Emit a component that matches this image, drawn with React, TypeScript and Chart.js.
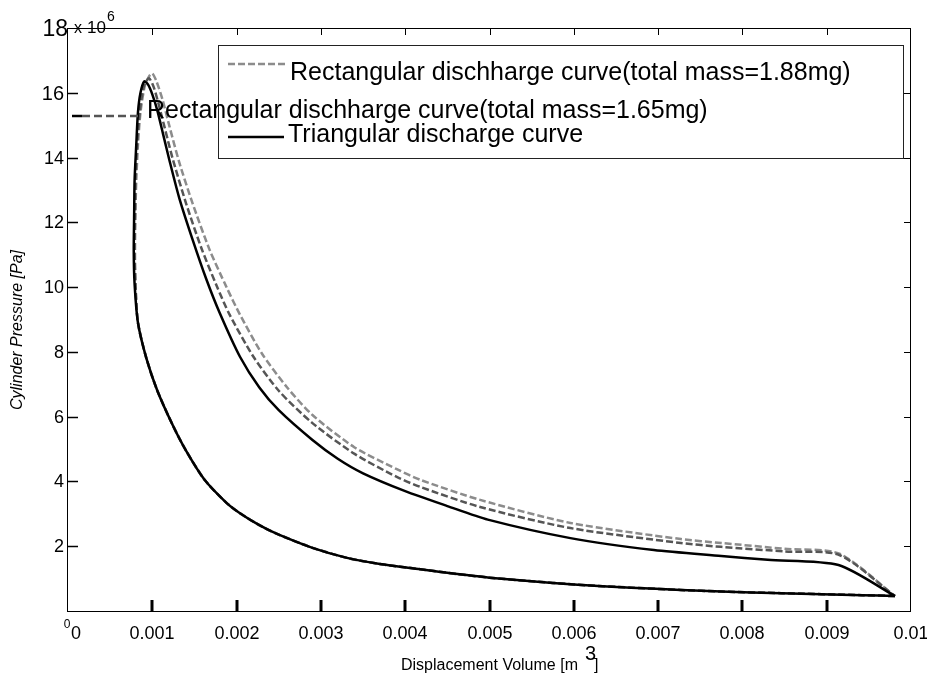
import React, { useEffect, useRef } from "react";
import { Chart, registerables } from "chart.js";

Chart.register(...registerables);

// Volume in m^3, pressure in units of 10^6 Pa
// Shared compression stroke (from bottom dead centre back to the left)
const compressionVolume = [
  0.00981, 0.00942, 0.00846, 0.00775, 0.00727, 0.00668, 0.006, 0.0055, 0.005, 0.00462,
  0.00418, 0.0037, 0.00331, 0.0029, 0.00248, 0.00227, 0.00204, 0.00188, 0.00162, 0.0014,
  0.00124, 0.00106, 0.00093, 0.00083,
];
const compressionPressure = [
  0.46, 0.49, 0.55, 0.6, 0.65, 0.72, 0.82, 0.92, 1.03, 1.14,
  1.29, 1.45, 1.64, 1.95, 2.38, 2.65, 3.02, 3.34, 4.05, 4.95,
  5.75, 6.8, 7.8, 8.9,
];

// Triangular discharge curve: combustion rise and expansion
const triVolume = [
  0.00079, 0.00078, 0.000785, 0.00079, 0.00081, 0.00083, 0.00086, 0.000905, 0.00095, 0.001,
  0.00106, 0.00113, 0.0012, 0.00132, 0.00148, 0.00164, 0.0018, 0.00204, 0.00227, 0.0025,
  0.0029, 0.0032, 0.0035, 0.004, 0.0045, 0.00498, 0.00596, 0.00695, 0.00775, 0.0083,
  0.00914, 0.00981,
];
const triPressure = [
  10.1, 11.1, 12.3, 13.3, 14.4, 15.4, 16.0, 16.35, 16.25, 15.95,
  15.45, 14.7, 13.95, 12.75, 11.45, 10.25, 9.2, 7.85, 6.9, 6.2,
  5.28, 4.7, 4.25, 3.7, 3.24, 2.82, 2.25, 1.88, 1.7, 1.58,
  1.42, 0.46,
];

// Rectangular discharge curve, total mass = 1.88 mg
const rect188Volume = [
  0.0008, 0.000795, 0.0008, 0.00081, 0.00083, 0.00086, 0.00091, 0.00096, 0.001, 0.00105,
  0.00112, 0.0012, 0.00132, 0.001476, 0.00168, 0.00188, 0.00204, 0.0023, 0.0026, 0.0029,
  0.0034, 0.0039, 0.00418, 0.00489, 0.00596, 0.00727, 0.00775, 0.0085, 0.00915, 0.00981,
];
const rect188Pressure = [
  10.1, 11.1, 12.3, 13.3, 14.4, 15.4, 16.2, 16.5, 16.6, 16.35,
  15.8, 15.0, 13.85, 12.6, 11.15, 10.0, 9.15, 7.95, 6.9, 6.05,
  5.05, 4.38, 4.05, 3.43, 2.72, 2.22, 2.1, 1.92, 1.77, 0.46,
];

// Rectangular discharge curve, total mass = 1.65 mg
const rect165Volume = [
  0.0008, 0.00079, 0.000795, 0.0008, 0.00082, 0.00085, 0.0009, 0.00096, 0.00102, 0.0011,
  0.001238, 0.001405, 0.001583, 0.001762, 0.001917, 0.0022, 0.0025, 0.0029, 0.0034, 0.0039,
  0.00418, 0.00489, 0.00596, 0.00727, 0.00775, 0.0085, 0.00915, 0.00981,
];
const rect165Pressure = [
  10.1, 11.1, 12.3, 13.3, 14.4, 15.4, 16.2, 16.45, 16.15, 15.4,
  14.0, 12.55, 11.2, 10.05, 9.15, 7.85, 6.8, 5.8, 4.85, 4.14,
  3.83, 3.21, 2.56, 2.1, 1.98, 1.84, 1.73, 0.46,
];

const xTicks = [0, 0.001, 0.002, 0.003, 0.004, 0.005, 0.006, 0.007, 0.008, 0.009, 0.01];
const xTickLabels = ["0", "0.001", "0.002", "0.003", "0.004", "0.005", "0.006", "0.007", "0.008", "0.009", "0.01"];
const yTicks = [2, 4, 6, 8, 10, 12, 14, 16, 18];
const yTickLabels = ["2", "4", "6", "8", "10", "12", "14", "16", "18"];

const legendLabels = [
  "Rectangular dischharge curve(total mass=1.88mg)",
  "Rectangular dischharge curve(total mass=1.65mg)",
  "Triangular discharge curve",
];

const FONT = '"Liberation Sans", Arial, Helvetica, sans-serif';

function toPoints(vs: number[], ps: number[]) {
  return vs.map((v, i) => ({ x: v, y: ps[i] }));
}

const decorPlugin = {
  id: "decor",
  afterDraw(chart: any) {
    const ctx: CanvasRenderingContext2D = chart.ctx;
    const { left, right, top, bottom } = chart.chartArea;
    const xs = chart.scales.x;
    const ys = chart.scales.y;
    ctx.save();

    // axes box
    ctx.strokeStyle = "#000";
    ctx.lineWidth = 1;
    ctx.strokeRect(left - 0.5, top + 0.5, right - left, bottom - top);

    // x ticks
    xTicks.forEach((v, i) => {
      const px = Math.round(xs.getPixelForValue(v));
      if (i > 0 && i < xTicks.length - 1) {
        ctx.lineWidth = 3;
        ctx.beginPath();
        ctx.moveTo(px, bottom);
        ctx.lineTo(px, bottom - 11);
        ctx.stroke();
        ctx.lineWidth = 1;
        ctx.beginPath();
        ctx.moveTo(px + 0.5, top);
        ctx.lineTo(px + 0.5, top + 7);
        ctx.stroke();
      }
      ctx.fillStyle = "#000";
      ctx.font = `18px ${FONT}`;
      ctx.textAlign = "center";
      ctx.textBaseline = "alphabetic";
      const lx = i === 0 ? px + 8 : px;
      ctx.fillText(xTickLabels[i], lx, 639);
    });
    // stray y zero label
    ctx.font = `12px ${FONT}`;
    ctx.textAlign = "center";
    ctx.fillText("0", left - 1, 628);

    // y ticks
    yTicks.forEach((v, i) => {
      const py = Math.round(ys.getPixelForValue(v)) + 0.5;
      if (v < 18) {
        ctx.lineWidth = 1.5;
        ctx.beginPath();
        ctx.moveTo(left, py);
        ctx.lineTo(left + 10, py);
        ctx.stroke();
        ctx.lineWidth = 1;
        ctx.beginPath();
        ctx.moveTo(right, py);
        ctx.lineTo(right - 7, py);
        ctx.stroke();
      }
      const size = v === 18 ? 23 : v === 16 ? 20 : 18;
      ctx.font = `${size}px ${FONT}`;
      ctx.textAlign = "right";
      ctx.textBaseline = "middle";
      ctx.fillText(yTickLabels[i], v === 18 ? 68 : 64, py + 1);
    });

    // exponent
    ctx.textBaseline = "alphabetic";
    ctx.textAlign = "left";
    ctx.font = `16px ${FONT}`;
    ctx.fillText("x", 74, 33);
    ctx.font = `17px ${FONT}`;
    ctx.fillText("10", 87, 33);
    ctx.font = `14px ${FONT}`;
    ctx.fillText("6", 107, 21);

    // x title
    ctx.font = `16px ${FONT}`;
    ctx.textAlign = "left";
    ctx.fillText("Displacement Volume [m", 401, 670);
    ctx.font = `20px ${FONT}`;
    ctx.fillText("3", 585, 660);
    ctx.font = `16px ${FONT}`;
    ctx.fillText("]", 594, 670);

    // y title
    ctx.save();
    ctx.translate(22, 330);
    ctx.rotate(-Math.PI / 2);
    ctx.font = `italic 16px ${FONT}`;
    ctx.textAlign = "center";
    ctx.fillText("Cylinder Pressure [Pa]", 0, 0);
    ctx.restore();

    // legend box
    ctx.fillStyle = "#fff";
    ctx.fillRect(218, 45, 685, 113);
    ctx.strokeStyle = "#222";
    ctx.lineWidth = 1;
    ctx.strokeRect(218.5, 45.5, 685, 113);

    ctx.lineCap = "butt";
    // entry 1
    ctx.strokeStyle = "#8c8c8c";
    ctx.lineWidth = 2.5;
    ctx.setLineDash([7, 3]);
    ctx.beginPath();
    ctx.moveTo(228, 64);
    ctx.lineTo(288, 64);
    ctx.stroke();
    // entry 2 (displaced)
    ctx.strokeStyle = "#555";
    ctx.setLineDash([8, 4]);
    ctx.beginPath();
    ctx.moveTo(82, 116);
    ctx.lineTo(140, 116);
    ctx.stroke();
    ctx.setLineDash([]);
    ctx.strokeStyle = "#000";
    ctx.beginPath();
    ctx.moveTo(72, 116);
    ctx.lineTo(82, 116);
    ctx.stroke();
    // entry 3
    ctx.strokeStyle = "#000";
    ctx.lineWidth = 2.5;
    ctx.beginPath();
    ctx.moveTo(228, 137);
    ctx.lineTo(284, 137);
    ctx.stroke();

    ctx.fillStyle = "#000";
    ctx.font = `25px ${FONT}`;
    ctx.textAlign = "left";
    ctx.textBaseline = "alphabetic";
    ctx.fillText(legendLabels[0], 290, 80);
    ctx.fillText(legendLabels[1], 147, 118);
    ctx.fillText(legendLabels[2], 288, 142);

    ctx.restore();
  },
};

export default function App() {
  const canvasRef = useRef<HTMLCanvasElement | null>(null);

  useEffect(() => {
    const canvas = canvasRef.current;
    if (!canvas) return;
    const comp = toPoints(compressionVolume, compressionPressure);
    const chart = new Chart(canvas, {
      type: "scatter",
      data: {
        datasets: [
          {
            label: legendLabels[2],
            data: [...comp, ...toPoints(triVolume, triPressure)],
            showLine: true,
            borderColor: "#000",
            borderWidth: 2.5,
            pointRadius: 0,
            tension: 0.25,
            order: 0,
          },
          {
            label: legendLabels[1],
            data: [...comp, ...toPoints(rect165Volume, rect165Pressure)],
            showLine: true,
            borderColor: "#555",
            borderWidth: 2.5,
            borderDash: [7, 3],
            pointRadius: 0,
            tension: 0.25,
            order: 1,
          },
          {
            label: legendLabels[0],
            data: [...comp, ...toPoints(rect188Volume, rect188Pressure)],
            showLine: true,
            borderColor: "#8c8c8c",
            borderWidth: 2.5,
            borderDash: [7, 3],
            pointRadius: 0,
            tension: 0.25,
            order: 2,
          },
        ],
      },
      options: {
        responsive: false,
        animation: false,
        layout: { padding: { left: 68, top: 28, right: 16, bottom: 68 } },
        plugins: { legend: { display: false }, tooltip: { enabled: false } },
        scales: {
          x: { type: "linear", min: 0, max: 0.01, display: false },
          y: { type: "linear", min: 0, max: 18, display: false },
        },
      },
      plugins: [decorPlugin],
    });
    return () => chart.destroy();
  }, []);

  return (
    <div style={{ position: "absolute", left: 0, top: 0, width: 927, height: 679, background: "#fff" }}>
      <canvas ref={canvasRef} width={927} height={679} style={{ display: "block" }} />
    </div>
  );
}
